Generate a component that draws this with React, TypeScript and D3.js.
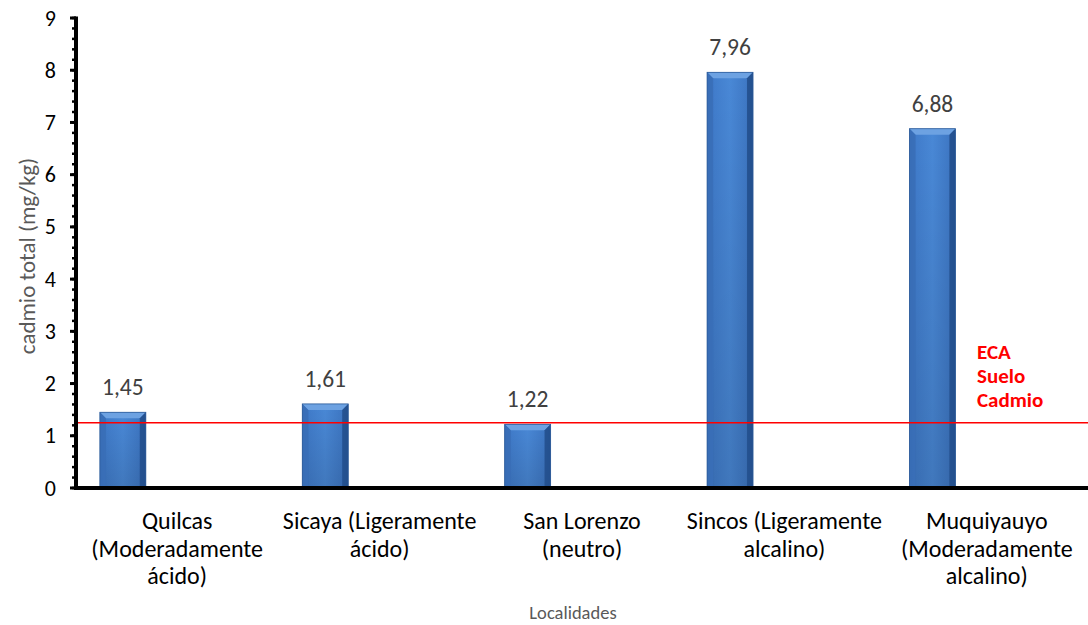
import React from "react";
import * as d3 from "d3";

const categories: string[][] = [
  ["Quilcas", "(Moderadamente", "ácido)"],
  ["Sicaya (Ligeramente", "ácido)"],
  ["San Lorenzo", "(neutro)"],
  ["Sincos (Ligeramente", "alcalino)"],
  ["Muquiyauyo", "(Moderadamente", "alcalino)"],
];
const values: number[] = [1.45, 1.61, 1.22, 7.96, 6.88];
const valueLabels: string[] = ["1,45", "1,61", "1,22", "7,96", "6,88"];
const ecaValue = 1.25;
const ecaLabel: string[] = ["ECA", "Suelo", "Cadmio"];
const yTicks: number[] = [0, 1, 2, 3, 4, 5, 6, 7, 8, 9];
const yTitle = "cadmio total (mg/kg)";
const xTitle = "Localidades";

const W = 1088;
const H = 625;
const FONT = "Carlito, 'Open Sans', sans-serif";

export default function App() {
  const ids = categories.map((_, i) => String(i));
  const x = d3.scaleBand<string>().domain(ids).range([76, 1088]).padding(0);
  const y = d3.scaleLinear().domain([0, 9]).range([488, 18]);
  const bw = x.bandwidth();
  const barOff = bw * 0.118;
  const barW = bw * 0.227;
  const minor = d3.range(0, 9.0001, 0.2);
  const bev = 6;

  return (
    <svg
      width={W}
      height={H}
      style={{ position: "absolute", left: 0, top: 0, background: "#fff" }}
      fontFamily={FONT}
    >
      <defs>
        <linearGradient id="body" x1="0" x2="1" y1="0" y2="0">
          <stop offset="0" stopColor="#3065ab" />
          <stop offset="0.15" stopColor="#417dcc" />
          <stop offset="0.5" stopColor="#4988d6" />
          <stop offset="0.85" stopColor="#3f79c6" />
          <stop offset="1" stopColor="#2a5796" />
        </linearGradient>
        <linearGradient id="vshade" x1="0" x2="0" y1="0" y2="1">
          <stop offset="0" stopColor="#000" stopOpacity="0" />
          <stop offset="1" stopColor="#000" stopOpacity="0.12" />
        </linearGradient>
      </defs>

      {/* bars */}
      {values.map((v, i) => {
        const x0 = (x(ids[i]) as number) + barOff;
        const x1 = x0 + barW;
        const yt = y(v);
        const yb = y(0);
        return (
          <g key={i}>
            <rect x={x0} y={yt} width={barW} height={yb - yt} fill="url(#body)" />
            <rect x={x0} y={yt} width={barW} height={yb - yt} fill="url(#vshade)" />
            <polygon
              points={`${x0},${yt} ${x1},${yt} ${x1 - bev},${yt + bev} ${x0 + bev},${yt + bev}`}
              fill="#6da2e2"
            />
            <polygon
              points={`${x0},${yt} ${x0 + bev},${yt + bev} ${x0 + bev},${yb} ${x0},${yb}`}
              fill="#3a6fb8"
              opacity={0.9}
            />
            <polygon
              points={`${x1},${yt} ${x1 - bev},${yt + bev} ${x1 - bev},${yb} ${x1},${yb}`}
              fill="#24508e"
              opacity={0.9}
            />
            <rect x={x0} y={yt} width={barW} height={yb - yt} fill="none" stroke="#2b5a99" strokeWidth={0.8} />
            <text
              x={x0 + barW / 2}
              y={yt - 17}
              textAnchor="middle"
              fontSize={23.5}
              fill="#404040"
            >
              {valueLabels[i]}
            </text>
          </g>
        );
      })}

      {/* ECA line */}
      <line x1={76} x2={1088} y1={y(ecaValue)} y2={y(ecaValue)} stroke="#ff0000" strokeWidth={1.6} />
      {ecaLabel.map((t, i) => (
        <text key={t} x={977} y={359 + i * 24} fontSize={21} fontWeight="bold" fill="#ff0000">
          {t}
        </text>
      ))}

      {/* y axis */}
      {minor.map((m, i) => (
        <line key={"m" + i} x1={72} x2={76} y1={y(m)} y2={y(m)} stroke="#000" strokeWidth={2.5} />
      ))}
      {yTicks.map((t) => (
        <g key={t}>
          <line x1={70} x2={76} y1={y(t)} y2={y(t)} stroke="#000" strokeWidth={3} />
          <text x={56} y={y(t) + 7.5} textAnchor="end" fontSize={22} fill="#000">
            {t}
          </text>
        </g>
      ))}
      <line x1={76} x2={76} y1={y(9) - 1.5} y2={y(0) + 2} stroke="#000" strokeWidth={4} />
      <line x1={74} x2={1088} y1={y(0)} y2={y(0)} stroke="#000" strokeWidth={4} />

      {/* category labels */}
      {categories.map((lines, i) => (
        <text
          key={i}
          x={(x(ids[i]) as number) + bw / 2}
          textAnchor="middle"
          fontSize={24}
          fill="#000"
        >
          {lines.map((l, j) => (
            <tspan key={j} x={(x(ids[i]) as number) + bw / 2} y={529 + j * 27.5}>
              {l}
            </tspan>
          ))}
        </text>
      ))}

      {/* titles */}
      <text x={573} y={619} textAnchor="middle" fontSize={18.5} fill="#595959">
        {xTitle}
      </text>
      <text
        transform={`translate(35,256) rotate(-90)`}
        textAnchor="middle"
        fontSize={23}
        fill="#595959"
      >
        {yTitle}
      </text>
    </svg>
  );
}
